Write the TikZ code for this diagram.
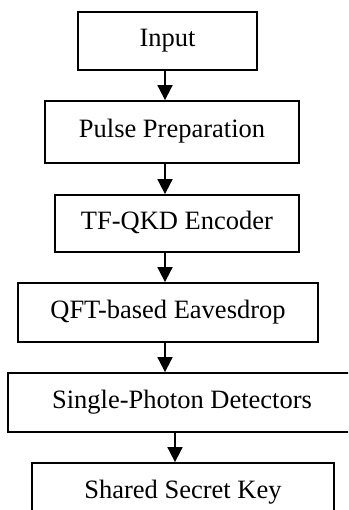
\documentclass[tikz,border=0pt]{standalone}
\usepackage{fontspec}
\setmainfont{Liberation Serif}
\usetikzlibrary{positioning,arrows.meta}

\begin{document}
\begin{tikzpicture}[x=1pt, y=-1pt, >={Triangle[length=15pt, width=15pt]},
    stage/.style={draw, line width=1.8pt, inner sep=0pt, font=\fontsize{26.5}{30}\selectfont,
        text height=18pt, text depth=6pt},
    flow/.style={->, line width=1.8pt}]
    \useasboundingbox (0,0) rectangle (348,510);
    \clip (0,0) rectangle (348,510);

    % --- Stages of the pipeline ---
    \node[stage, minimum width=179pt, minimum height=58pt] (input) at (167.5, 41) {Input};
    \node[stage, minimum width=254pt, minimum height=62pt] (pulse) at (172, 132) {Pulse Preparation};
    \node[stage, minimum width=244pt, minimum height=57pt] (enc) at (177, 223.5) {TF-QKD Encoder};
    \node[stage, minimum width=300pt, minimum height=59pt] (eve) at (168, 312.5) {QFT-based Eavesdrop};
    \node[stage, minimum width=348pt, minimum height=59pt] (spd) at (182, 402.5) {Single-Photon Detectors};
    \node[stage, minimum width=302pt, minimum height=58pt] (key) at (183, 492) {Shared Secret Key};

    % Arrow columns
    \coordinate (ax) at (165, 0);
    \coordinate (bx) at (175, 0);

    % --- Connectors ---
    \draw[flow] (input.south -| ax) -- (pulse.north -| ax);
    \draw[flow] (pulse.south -| ax) -- (enc.north -| ax);
    \draw[flow] (enc.south -| ax) -- (eve.north -| ax);
    \draw[flow] (eve.south -| ax) -- (spd.north -| ax);
    \draw[flow] (spd.south -| bx) -- (key.north -| bx);
\end{tikzpicture}
\end{document}
